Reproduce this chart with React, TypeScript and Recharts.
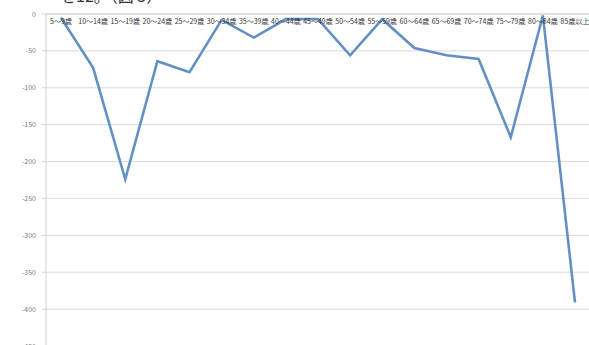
import React from "react";
import { LineChart, Line, XAxis, YAxis, CartesianGrid } from "recharts";

// age bands and the net change per band
const ageBands = [
  "5〜9歳", "10〜14歳", "15〜19歳", "20〜24歳", "25〜29歳", "30〜34歳",
  "35〜39歳", "40〜44歳", "45〜49歳", "50〜54歳", "55〜59歳", "60〜64歳",
  "65〜69歳", "70〜74歳", "75〜79歳", "80〜84歳", "85歳以上",
];
const netChange = [
  -5, -73, -224, -64, -79, -8, -32, -7, -7, -56, -7, -46, -56, -61, -167, -2, -391,
];
const yTicks = [0, -50, -100, -150, -200, -250, -300, -350, -400, -450];

const data = ageBands.map((band, i) => ({ band, value: netChange[i] }));

const renderCategoryTick = (props: any) => (
  <text
    key={props.index}
    x={props.x}
    y={24}
    textAnchor="middle"
    fontSize={7}
    fill="#333"
  >
    {props.payload.value}
  </text>
);

const renderValueTick = (props: any) => (
  <text
    key={props.index}
    x={Number(props.x)}
    y={Number(props.y) + 2.5}
    textAnchor="end"
    fontSize={7}
    fill="#7a7a7a"
  >
    {props.payload.value}
  </text>
);

export default function App() {
  return (
    <div
      style={{
        position: "absolute",
        top: 0,
        left: 0,
        width: 589,
        height: 345,
        overflow: "hidden",
        background: "#fff",
        fontFamily: "'Noto Sans CJK JP', sans-serif",
      }}
    >
      <div
        style={{
          position: "absolute",
          top: -17,
          left: 60,
          fontSize: 16,
          color: "#333",
          whiteSpace: "nowrap",
        }}
      >
        を12。（図 5）
      </div>
      <LineChart
        width={589}
        height={370}
        data={data}
        margin={{ top: 13, right: 0, left: 0, bottom: 24 }}
      >
        <CartesianGrid vertical={false} stroke="#d9d9d9" strokeWidth={1} />
        <XAxis
          dataKey="band"
          orientation="top"
          height={1}
          axisLine={{ stroke: "#d0d0d0" }}
          tickLine={false}
          tick={renderCategoryTick}
          interval={0}
          padding={{ left: 15, right: 14 }}
        />
        <YAxis
          type="number"
          domain={[-450, 0]}
          ticks={yTicks}
          width={46}
          interval={0}
          axisLine={{ stroke: "#d0d0d0" }}
          tickLine={{ stroke: "#d0d0d0" }}
          tickSize={4}
          tickMargin={6}
          tick={renderValueTick}
        />
        <Line
          type="linear"
          dataKey="value"
          stroke="#6390c3"
          strokeWidth={2.6}
          dot={false}
          isAnimationActive={false}
        />
      </LineChart>
    </div>
  );
}
